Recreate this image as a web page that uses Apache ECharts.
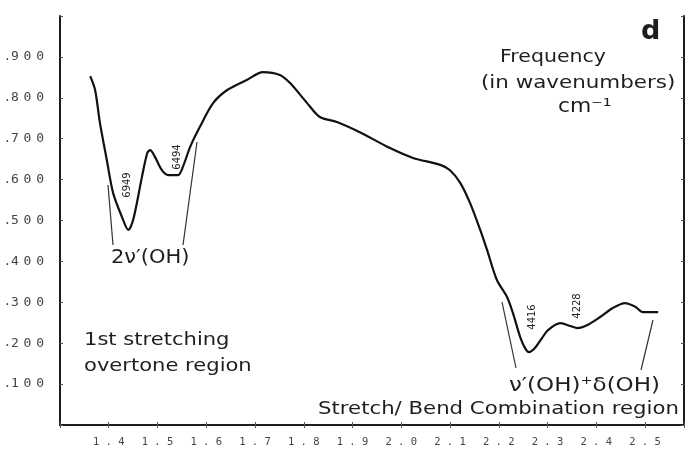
<!DOCTYPE html>
<html><head><meta charset="utf-8">
<script src="https://cdn.jsdelivr.net/npm/echarts@6/dist/echarts.min.js"></script>
<style>html,body{margin:0;padding:0;background:#fff}#c{width:690px;height:450px}</style>
</head><body><div id="c"></div>
<script>
// wavelength (µm)
const wavelength = [1.362,1.372,1.382,1.396,1.409,1.427,1.440,1.450,1.468,1.479,1.485,1.495,1.509,1.522,1.542,1.552,1.567,1.587,1.614,1.643,1.684,1.716,1.751,1.772,1.807,1.833,1.868,1.915,1.977,2.024,2.080,2.100,2.121,2.141,2.162,2.176,2.196,2.217,2.229,2.244,2.254,2.262,2.274,2.289,2.301,2.326,2.342,2.361,2.381,2.408,2.434,2.459,2.480,2.496,2.514,2.527];
// reflectance
const reflectance = [0.853,0.819,0.738,0.648,0.567,0.509,0.477,0.501,0.606,0.665,0.672,0.655,0.623,0.611,0.611,0.631,0.680,0.729,0.787,0.819,0.844,0.863,0.856,0.836,0.787,0.753,0.741,0.716,0.677,0.653,0.636,0.623,0.592,0.543,0.477,0.428,0.355,0.313,0.274,0.215,0.188,0.178,0.188,0.213,0.232,0.249,0.244,0.237,0.244,0.264,0.286,0.298,0.289,0.276,0.276,0.276];
const xTickLabels = ['1.4','1.5','1.6','1.7','1.8','1.9','2.0','2.1','2.2','2.3','2.4','2.5'];
const yTickLabels = ['.100','.200','.300','.400','.500','.600','.700','.800','.900'];

const chart = echarts.init(document.getElementById('c'));
const ink = '#1e1e1e';
const hand = '"DejaVu Sans", "Noto Sans", sans-serif';
const txt = (x, y, s, size, sx) => ({
  type: 'text', x: x, y: y, scaleX: sx || 1.17, originX: 0, originY: 0,
  style: { text: s, font: size + 'px ' + hand, fill: ink }
});
const line = (x1, y1, x2, y2) => ({
  type: 'line', shape: { x1, y1, x2, y2 }, style: { stroke: '#333', lineWidth: 1.2 }
});
const vtxt = (cx, cy, s) => ({
  type: 'text', x: cx, y: cy, rotation: Math.PI / 2,
  style: { text: s, font: '10px ' + hand, fill: ink, align: 'center', verticalAlign: 'middle' }
});
const spacedY = s => '{d|.}' + s.slice(1).split('').map(ch => '{c|' + ch + '}').join('{s| }');

const option = {
  backgroundColor: '#fff',
  animation: false,
  grid: { left: 60, right: 6, top: 16, bottom: 25 },
  xAxis: [{
    type: 'value', min: 1.3, max: 2.58, interval: 0.1,
    axisLine: { onZero: false, lineStyle: { color: ink, width: 2 } },
    axisTick: { inside: true, length: 3, lineStyle: { color: '#555' } },
    splitLine: { show: false },
    axisLabel: {
      margin: 12, color: '#444', fontFamily: 'DejaVu Sans Mono', fontSize: 10.5,
      formatter: v => {
        const s = v.toFixed(1);
        return xTickLabels.indexOf(s) >= 0 ? s.split('').join(' ') : '';
      }
    }
  }, {
    type: 'value', min: 1.3, max: 2.58, interval: 0.1, position: 'top',
    axisLine: { lineStyle: { color: ink, width: 2 } },
    axisTick: { inside: true, length: 3, lineStyle: { color: '#555' } },
    axisLabel: { show: false }, splitLine: { show: false }
  }],
  yAxis: [{
    type: 'value', min: 0, max: 1.0, interval: 0.1,
    axisLine: { show: true, lineStyle: { color: ink, width: 2 } },
    axisTick: { inside: true, length: 3, lineStyle: { color: '#555' } },
    splitLine: { show: false },
    axisLabel: {
      margin: 16, color: '#444',
      rich: {
        d: { fontFamily: 'DejaVu Sans Mono', fontSize: 12, color: '#444' },
        c: { fontFamily: 'DejaVu Sans Mono', fontSize: 13, color: '#444' },
        s: { fontFamily: 'DejaVu Sans Mono', fontSize: 8 }
      },
      formatter: v => {
        const s = '.' + Math.round(v * 1000).toString().padStart(3, '0');
        return yTickLabels.indexOf(s) >= 0 ? spacedY(s) : '';
      }
    }
  }, {
    type: 'value', min: 0, max: 1.0, interval: 0.1, position: 'right',
    axisLine: { show: true, lineStyle: { color: ink, width: 2 } },
    axisTick: { inside: true, length: 3, lineStyle: { color: '#555' } },
    axisLabel: { show: false }, splitLine: { show: false }
  }],
  series: [{
    type: 'line', data: wavelength.map((w, i) => [w, reflectance[i]]),
    smooth: 0.3, showSymbol: false, symbol: 'none',
    lineStyle: { color: '#111', width: 2.2 }
  }],
  graphic: [
    line(108, 185, 113, 245), line(197, 142, 183, 245),
    line(502, 302, 516, 368), line(653, 320, 641, 370),
    vtxt(127, 185, '6949'), vtxt(177, 157, '6494'),
    vtxt(532, 317, '4416'), vtxt(577, 306, '4228'),
    txt(111, 248, '2ν′(OH)', 20, 1.05),
    txt(84, 331, '1st stretching', 18),
    txt(84, 357, 'overtone region', 18),
    txt(509, 376, 'ν′(OH)⁺δ(OH)', 20, 1.15),
    txt(318, 400, 'Stretch/ Bend Combination region', 18, 1.18),
    txt(500, 48, 'Frequency', 18, 1.14),
    txt(481, 74, '(in wavenumbers)', 18, 1.19),
    txt(558, 98, 'cm⁻¹', 19, 1.15),
    { type: 'text', x: 641, y: 18, style: { text: 'd', font: 'bold 27px "DejaVu Sans", sans-serif', fill: ink } }
  ]
};
chart.setOption(option);
</script></body></html>
